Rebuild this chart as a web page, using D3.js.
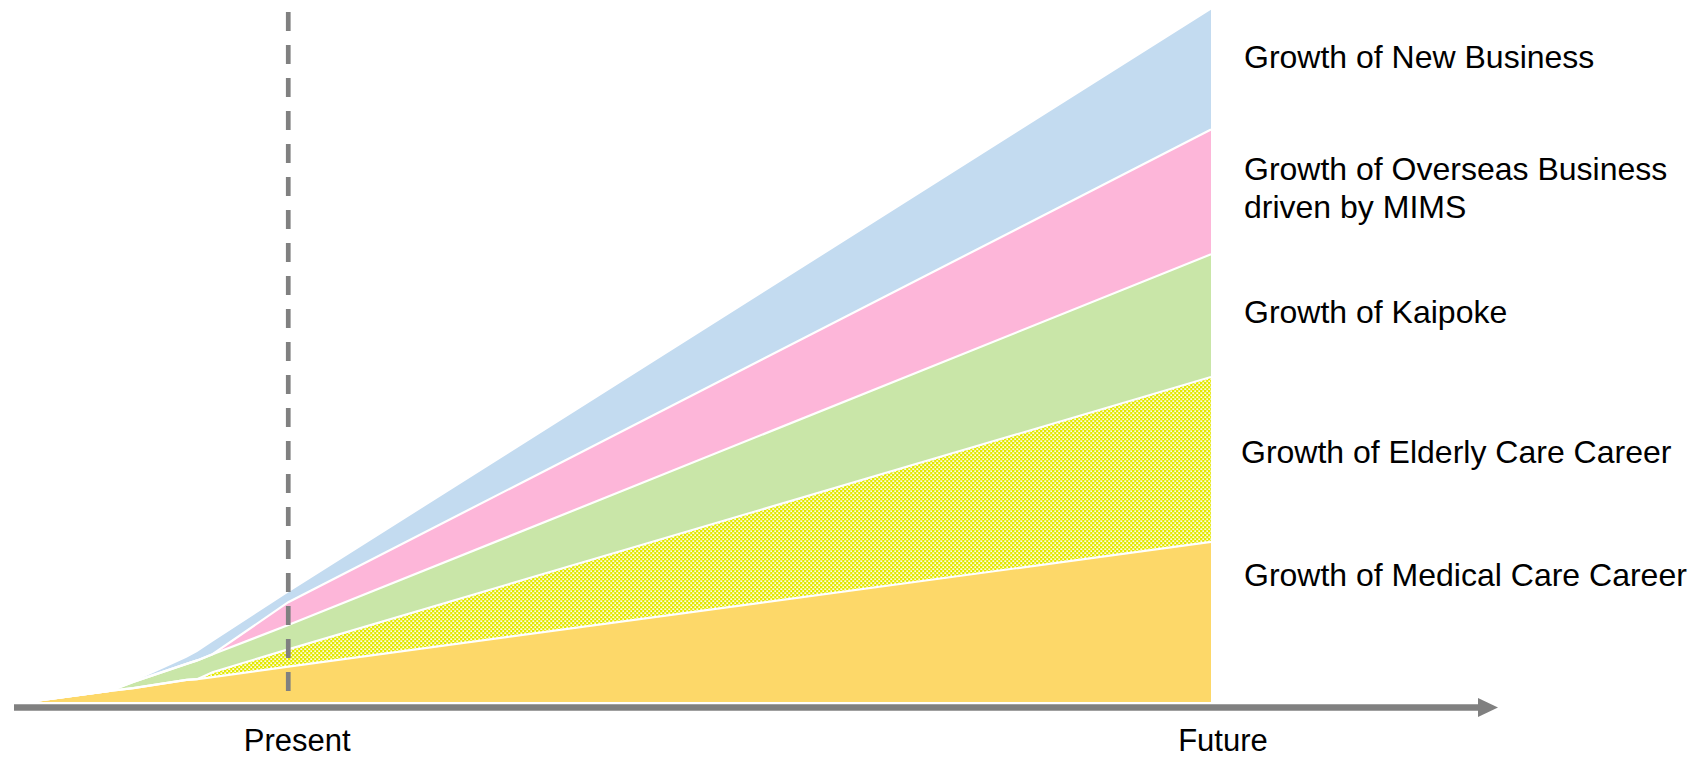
<!DOCTYPE html>
<html>
<head>
<meta charset="utf-8">
<script src="https://cdn.jsdelivr.net/npm/d3@7"></script>
<style>
	body { margin: 0; background: #fff; }
	text { font-family: "Liberation Sans", Arial, sans-serif; fill: #000; }
</style>
</head>
<body>
<div id="chart"></div>
<script>
// data (time 0..100, stacked values 0..100)
var times    = [0, 6.9, 8.9, 13.4, 14.3, 15.6, 22, 100];
var medical  = [0, 1.6, 2.0, 3.2, 3.3, 3.6, 5.1, 23.1];
var elderly  = [0, 0, 0, 0, 0, 0.7, 2.5, 23.8];
var kaipoke  = [0, 0, 0.9, 2.3, 2.7, 2.6, 3.5, 17.7];
var overseas = [0, 0, 0, 0, 0, 0, 3.3, 18.0];
var newBiz   = [0, 0, 0, 0.9, 1.2, 1.8, 1.4, 17.3];

var seriesKeys = ["medical", "elderly", "kaipoke", "overseas", "newBiz"];
var seriesLabels = [
	["Growth of Medical Care Career"],
	["Growth of Elderly Care Career"],
	["Growth of Kaipoke"],
	["Growth of Overseas Business", "driven by MIMS"],
	["Growth of New Business"]
];
var tickTimes = [22, 100];
var tickLabels = ["Present", "Future"];

// magic numbers
var width = 1700, height = 758;
var colors = ["#fdd869", "url(#dots)", "#c9e6a8", "#fdb6d9", "#c3dbf0"];
var labelBaselines = [586, 463, 323, 180, 68];
var labelX = [1244, 1241, 1244, 1244, 1244];

var rows = times.map(function(t, i) {
	return {t: t, medical: medical[i], elderly: elderly[i], kaipoke: kaipoke[i],
		overseas: overseas[i], newBiz: newBiz[i]};
});

var svg = d3.select("#chart").append("svg")
		.attr("width", width)
		.attr("height", height);

// dotted yellow fill
var pat = svg.append("defs").append("pattern")
		.attr("id", "dots")
		.attr("patternUnits", "userSpaceOnUse")
		.attr("width", 4)
		.attr("height", 4);
pat.append("rect").attr("width", 4).attr("height", 4).attr("fill", "#e4e900");
pat.append("rect").attr("x", 0.3).attr("y", 0.4).attr("width", 1.9).attr("height", 1.5).attr("fill", "#fff");
pat.append("rect").attr("x", 2.3).attr("y", 2.4).attr("width", 1.9).attr("height", 1.5).attr("fill", "#fff");

var xScale = d3.scaleLinear()
		.domain([0, 100])
		.range([28, 1211]);

var yScale = d3.scaleLinear()
		.domain([0, 100])
		.range([702, 9]);

var stack = d3.stack().keys(seriesKeys);
var layers = stack(rows);

var area = d3.area()
		.x(function(d) { return xScale(d.data.t); })
		.y0(function(d) { return yScale(d[0]); })
		.y1(function(d) { return yScale(d[1]); });

var topLine = d3.line()
		.x(function(d) { return xScale(d.data.t); })
		.y(function(d) { return yScale(d[1]); });

svg.append("g").selectAll("path")
		.data(layers)
	.enter().append("path")
		.attr("d", area)
		.attr("fill", function(d, i) { return colors[i]; });

// white seams between the bands
svg.append("g").selectAll("path")
		.data(layers.slice(0, 4))
	.enter().append("path")
		.attr("d", topLine)
		.attr("fill", "none")
		.attr("stroke", "#fff")
		.attr("stroke-width", 2.2);

// present marker
svg.append("line")
		.attr("x1", xScale(tickTimes[0]))
		.attr("x2", xScale(tickTimes[0]))
		.attr("y1", 12)
		.attr("y2", 704)
		.attr("stroke", "#808080")
		.attr("stroke-width", 4.7)
		.attr("stroke-dasharray", "19,14");

// time axis with arrow
svg.append("line")
		.attr("x1", 14)
		.attr("x2", 1480)
		.attr("y1", 707.5)
		.attr("y2", 707.5)
		.attr("stroke", "#808080")
		.attr("stroke-width", 6.5);

svg.append("path")
		.attr("d", "M1478,698 L1498,707.5 L1478,717 Z")
		.attr("fill", "#808080");

svg.append("g").selectAll("text")
		.data(tickLabels)
	.enter().append("text")
		.attr("x", function(d, i) { return xScale(tickTimes[i]); })
		.attr("dx", function(d, i) { return i == 0 ? 9 : 12; })
		.attr("y", 751)
		.attr("text-anchor", "middle")
		.style("font-size", "31px")
		.text(function(d) { return d; });

// series labels on the right
var labels = svg.append("g").selectAll("text")
		.data(seriesLabels)
	.enter().append("text")
		.attr("x", function(d, i) { return labelX[i]; })
		.attr("y", function(d, i) { return labelBaselines[i]; })
		.style("font-size", "32px");

labels.selectAll("tspan")
		.data(function(d) { return d; })
	.enter().append("tspan")
		.attr("x", function() { return this.parentNode.getAttribute("x"); })
		.attr("dy", function(d, j) { return j == 0 ? 0 : 38; })
		.text(function(d) { return d; });
</script>
</body>
</html>
